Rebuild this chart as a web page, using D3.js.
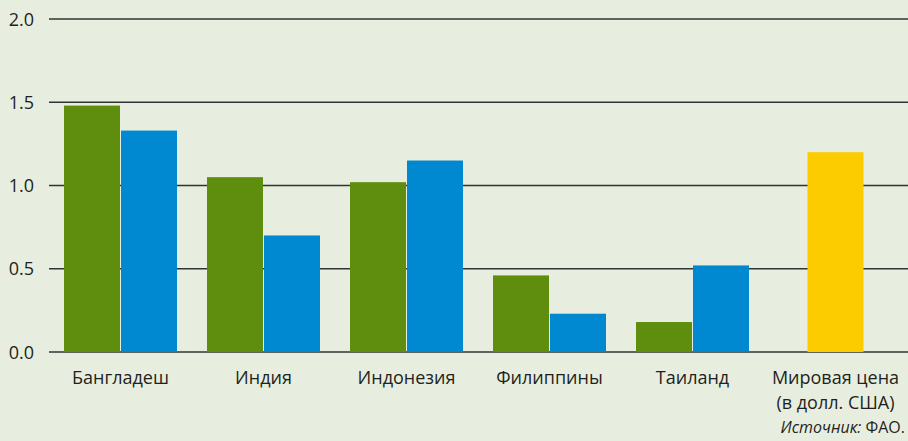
<!DOCTYPE html>
<html>
<head>
<meta charset="utf-8">
<script src="https://cdn.jsdelivr.net/npm/d3@7"></script>
<style>
  html, body { margin: 0; padding: 0; background: #e7eedf; }
  svg { display: block; }
  text { font-family: "Open Sans", "Noto Sans", sans-serif; fill: #231f20; }
</style>
</head>
<body>
<svg id="chart" width="908" height="441"></svg>
<script>
// Country groups and labels (world price has a two-line label)
const categories = ["Бангладеш", "Индия", "Индонезия", "Филиппины", "Таиланд", "Мировая цена"];
const categoryLabels = [["Бангладеш"], ["Индия"], ["Индонезия"], ["Филиппины"], ["Таиланд"], ["Мировая цена", "(в долл. США)"]];
// Two domestic price series per country
const seriesGreen = [1.48, 1.05, 1.02, 0.46, 0.18, null];
const seriesBlue  = [1.33, 0.70, 1.15, 0.23, 0.52, null];
// World price (single bar)
const seriesWorld = [null, null, null, null, null, 1.20];
const yTicks = [0, 0.5, 1.0, 1.5, 2.0];
const sourceNote = ["Источник:", " ФАО."];

const svg = d3.select("#chart");
const W = 908;

// Group centres
const x = d3.scalePoint()
  .domain(categories)
  .range([120.5, 835.5]);

const y = d3.scaleLinear().domain([0, 2]).range([352, 19]);

// Horizontal grid lines with tick labels
const grid = svg.append("g");
grid.selectAll("line").data(yTicks).join("line")
  .attr("x1", 49).attr("x2", W)
  .attr("y1", d => y(d)).attr("y2", d => y(d))
  .attr("stroke", "#333333").attr("stroke-width", 1.4);
grid.selectAll("text").data(yTicks).join("text")
  .attr("x", 34).attr("y", d => y(d) + 6.5)
  .attr("text-anchor", "end")
  .attr("font-size", 18)
  .text(d3.format(".1f"));

// Bars: fixed width, green and blue side by side around group centre
const barW = 56, gap = 1;
const bars = svg.append("g");

bars.selectAll("rect.g").data(categories.map((c, i) => ({ c, v: seriesGreen[i] })).filter(d => d.v != null))
  .join("rect").attr("class", "g")
  .attr("x", d => x(d.c) - barW - gap / 2)
  .attr("width", barW)
  .attr("y", d => y(d.v))
  .attr("height", d => y(0) - y(d.v))
  .attr("fill", "#5f8d0d");

bars.selectAll("rect.b").data(categories.map((c, i) => ({ c, v: seriesBlue[i] })).filter(d => d.v != null))
  .join("rect").attr("class", "b")
  .attr("x", d => x(d.c) + gap / 2)
  .attr("width", barW)
  .attr("y", d => y(d.v))
  .attr("height", d => y(0) - y(d.v))
  .attr("fill", "#0089d1");

bars.selectAll("rect.w").data(categories.map((c, i) => ({ c, v: seriesWorld[i] })).filter(d => d.v != null))
  .join("rect").attr("class", "w")
  .attr("x", d => x(d.c) - barW / 2)
  .attr("width", barW)
  .attr("y", d => y(d.v))
  .attr("height", d => y(0) - y(d.v))
  .attr("fill", "#fccb00");

// Category labels (one text element per line)
const lab = svg.append("g");
categories.forEach((c, i) => {
  categoryLabels[i].forEach((line, j) => {
    lab.append("text")
      .attr("x", x(c))
      .attr("y", 384 + j * 24.5)
      .attr("text-anchor", "middle")
      .attr("font-size", 18)
      .text(line);
  });
});

// Source note
const src = svg.append("text")
  .attr("x", 905).attr("y", 433)
  .attr("text-anchor", "end")
  .attr("font-size", 16);
src.append("tspan").attr("font-style", "italic").text(sourceNote[0]);
src.append("tspan").text(sourceNote[1]);
</script>
</body>
</html>
